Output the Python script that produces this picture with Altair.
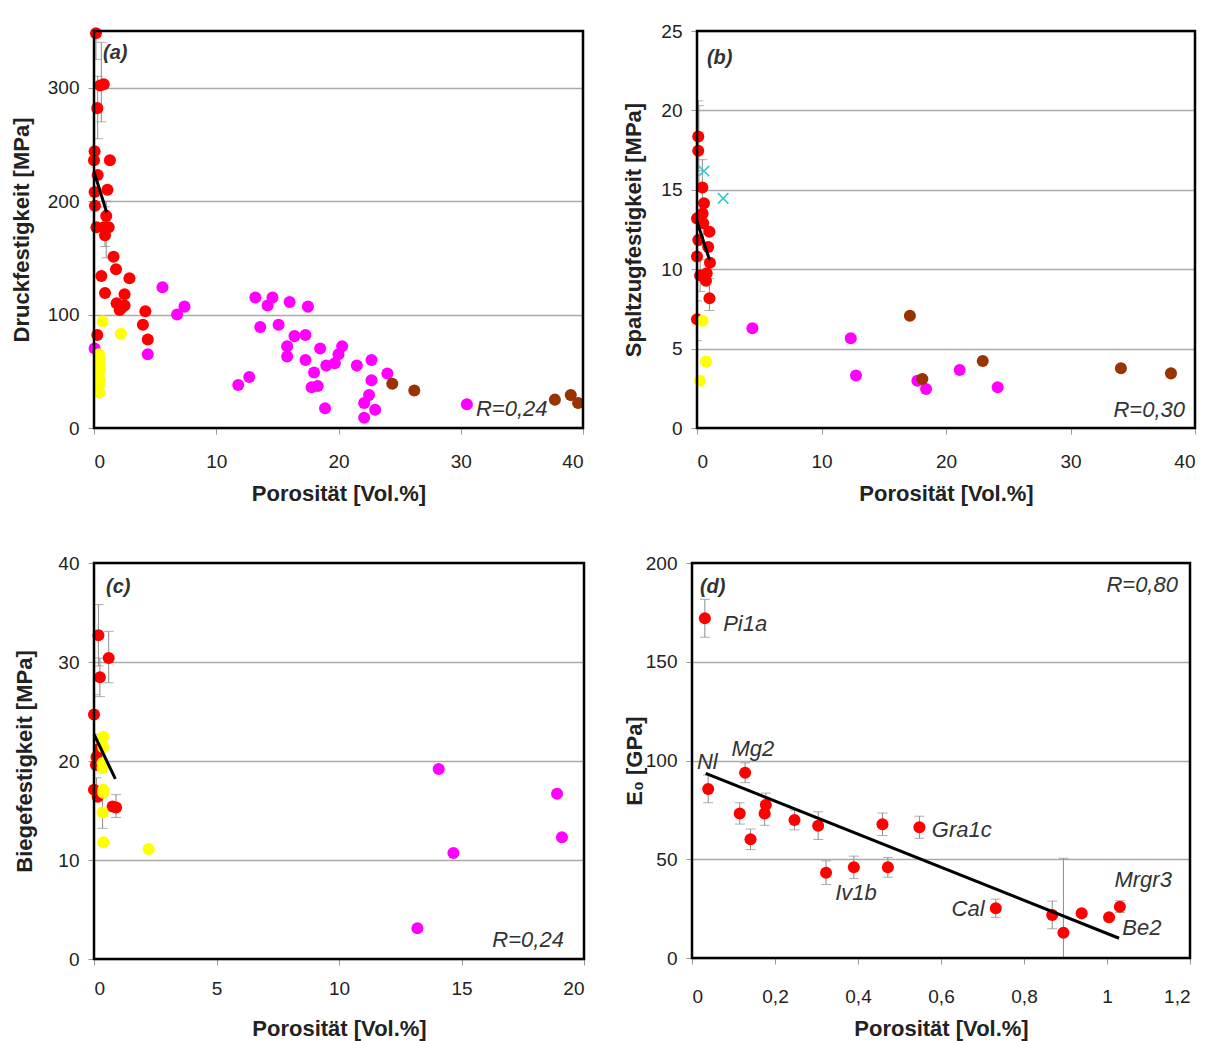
import altair as alt
import pandas as pd

FONT = "Liberation Sans"
RED = "#ff0000"
MAG = "#ff00ff"
BRN = "#993300"
YEL = "#ffff00"
CYN = "#33cccc"
GRAY = "#8c8c8c"

# ---------------- Panel (a) ----------------
a_red_x = [0.16, 0.5, 0.8, 0.27, 0.05, 0.0, 1.3, 0.3, 0.05, 1.1, 0.08, 1.0, 0.2, 0.8, 1.2, 0.9,
           1.6, 1.8, 0.6, 2.9, 0.9, 2.5, 1.85, 2.26, 2.5, 2.1, 4.2, 4.0, 4.4, 0.27]
a_red_y = [348, 302, 303, 282, 244, 236, 236, 223, 208, 210, 196, 187, 177, 177, 177, 170,
           151, 140, 134, 132, 119, 118, 110, 106, 108, 104, 103, 91, 78, 82]
a_mag_x = [0.05, 4.4, 5.6, 6.8, 7.4, 13.2, 14.2, 14.6, 16.0, 17.5, 13.6, 15.1, 16.4, 17.3, 15.8,
           15.8, 18.5, 17.3, 18.0, 19.0, 19.7, 20.0, 20.3, 17.8, 18.3, 18.9, 11.8, 12.7, 21.5,
           22.7, 24.0, 22.7, 22.5, 22.1, 23.0, 22.1, 30.5]
a_mag_y = [70, 65, 124, 100, 107, 115, 108, 115, 111, 107, 89, 91, 81, 82, 72,
           63, 70, 60, 49, 55, 57, 65, 72, 36, 37, 17.5, 38, 45, 55,
           60, 48, 42, 29, 22, 16, 9, 21]
a_brn_x = [24.4, 26.2, 37.7, 39.0, 39.6]
a_brn_y = [39, 33, 25, 29, 22]
a_yel_x = [0.7, 2.2, 0.4, 0.45, 0.4, 0.45, 0.4, 0.45, 0.4, 0.45]
a_yel_y = [94, 83, 65, 60, 56, 52, 47, 42, 37, 31]
a_err_x = [0.16, 0.6, 0.3, 1.0, 0.9]
a_err_lo = [325, 270, 255, 150, 160]
a_err_hi = [372, 340, 310, 200, 195]
a_line_x = [0.03, 1.04]
a_line_y = [225, 190]

# ---------------- Panel (b) ----------------
b_red_x = [0.1, 0.1, 0.43, 0.56, 0.45, 0.0, 0.5, 1.0, 0.1, 0.9, 0.0, 1.04, 0.25, 0.78, 0.72, 1.0, 0.0]
b_red_y = [18.35, 17.46, 15.15, 14.15, 13.5, 13.2, 12.9, 12.36, 11.84, 11.4, 10.8, 10.4, 9.6,
           9.74, 9.28, 8.17, 6.85]
b_cyn_x = [0.56, 2.1]
b_cyn_y = [16.18, 14.46]
b_yel_x = [0.45, 0.72, 0.24]
b_yel_y = [6.76, 4.18, 2.98]
b_mag_x = [4.45, 12.35, 12.77, 17.7, 18.4, 21.1, 24.15]
b_mag_y = [6.28, 5.65, 3.3, 2.98, 2.46, 3.65, 2.56]
b_brn_x = [17.1, 18.1, 22.95, 34.05, 38.07]
b_brn_y = [7.07, 3.09, 4.22, 3.76, 3.44]
b_err_x = [0.1, 0.15, 0.43, 0.5, 1.0, 0.25, 0.0]
b_err_lo = [16.2, 15.0, 13.6, 11.5, 7.4, 8.6, 5.5]
b_err_hi = [20.6, 20.3, 16.9, 14.3, 9.4, 10.6, 8.0]
b_line_x = [0.0, 1.0]
b_line_y = [13.0, 10.6]

# ---------------- Panel (c) ----------------
c_red_x = [0.18, 0.6, 0.24, 0.0, 0.2, 0.1, 0.08, 0.0, 0.15, 0.76, 0.9]
c_red_y = [32.7, 30.4, 28.45, 24.7, 21.2, 20.4, 19.6, 17.1, 16.4, 15.4, 15.3]
c_yel_x = [0.38, 0.38, 0.35, 0.35, 0.38, 0.38, 0.35, 0.38, 2.23]
c_yel_y = [22.45, 21.4, 19.8, 19.3, 17.1, 16.8, 14.8, 11.8, 11.1]
c_mag_x = [14.07, 18.9, 19.1, 14.67, 13.2]
c_mag_y = [19.2, 16.7, 12.3, 10.7, 3.1]
c_err_x = [0.18, 0.6, 0.24, 0.0, 0.9, 0.35, 0.1]
c_err_lo = [29.6, 27.9, 26.5, 22.7, 14.3, 13.2, 15.9]
c_err_hi = [35.8, 33.1, 30.4, 26.7, 16.6, 16.4, 18.3]
c_line_x = [0.0, 0.87]
c_line_y = [22.7, 18.2]

# ---------------- Panel (d) ----------------
d_x = [0.031, 0.039, 0.128, 0.115, 0.141, 0.178, 0.175, 0.247, 0.304, 0.323, 0.39, 0.459,
       0.472, 0.548, 0.732, 0.868, 0.895, 0.939, 1.005, 1.031]
d_y = [172, 85.6, 93.8, 73.2, 60.1, 77.5, 73.2, 69.9, 67, 43.2, 45.9, 67.7,
       45.9, 66.2, 25.2, 21.8, 12.8, 22.6, 20.6, 26]
d_err = [9.6, 7, 5, 5.4, 5.2, 6, 6, 5, 7, 6, 5.7, 5.7, 5, 5.6, 4.6, 7, 37.7, 0, 0, 3]
d_line_x = [0.033, 1.029]
d_line_y = [93.5, 10.0]
d_names = ["Pi1a", "Nl", "Mg2", "Gra1c", "Iv1b", "Cal", "Mrgr3", "Be2"]
d_name_x = [0.075, 0.012, 0.095, 0.578, 0.345, 0.705, 1.018, 1.037]
d_name_y = [169, 99, 106, 65, 33, 25, 39.5, 15]
d_name_align = ["left", "left", "left", "left", "left", "right", "left", "left"]


def points_df(groups):
    rows = []
    for name, xs, ys in groups:
        for xv, yv in zip(xs, ys):
            rows.append({"x": xv, "y": yv, "grp": name})
    return pd.DataFrame(rows)


def make_panel(W, H, xdom, ydom, xvals, yvals, xtitle, ytitle, groups, err, line, texts,
               cross=None, xlabpad=18, xtitpad=8, yext=47, ytitpad=14, xexpr=None):
    xaxis_kw = dict(values=xvals, labelPadding=xlabpad, titlePadding=xtitpad, grid=False)
    if xexpr:
        xaxis_kw["labelExpr"] = xexpr
    xscale = alt.Scale(domain=xdom, nice=False, zero=False)
    yscale = alt.Scale(domain=ydom, nice=False, zero=False)
    yaxis = alt.Axis(values=yvals, labelPadding=9, titlePadding=ytitpad,
                     minExtent=yext, maxExtent=yext, grid=True)
    xaxis = alt.Axis(**xaxis_kw)

    def X(f):
        return alt.X(f"{f}:Q", scale=xscale, axis=xaxis, title=xtitle)

    def Y(f):
        return alt.Y(f"{f}:Q", scale=yscale, axis=yaxis, title=ytitle)

    layers = []
    ex, elo, ehi = err
    edf = pd.DataFrame({"x": ex, "lo": elo, "hi": ehi})
    layers.append(alt.Chart(edf).mark_rule(color=GRAY, strokeWidth=1, clip=True)
                  .encode(x=X("x"), y=Y("lo"), y2="hi:Q"))
    layers.append(alt.Chart(edf).mark_tick(color=GRAY, orient="horizontal", size=10,
                                           thickness=1, clip=True)
                  .encode(x=X("x"), y=Y("lo")))
    layers.append(alt.Chart(edf).mark_tick(color=GRAY, orient="horizontal", size=10,
                                           thickness=1, clip=True)
                  .encode(x=X("x"), y=Y("hi")))

    pdf = points_df(groups)
    dom = [g[0] for g in groups]
    cmap = {"red": RED, "mag": MAG, "brn": BRN, "yel": YEL}
    layers.append(alt.Chart(pdf).mark_circle(size=145, opacity=1)
                  .encode(x=X("x"), y=Y("y"),
                          color=alt.Color("grp:N", scale=alt.Scale(domain=dom, range=[cmap[d] for d in dom]),
                                          legend=None)))
    if cross:
        cdf = pd.DataFrame({"x": cross[0], "y": cross[1]})
        layers.append(alt.Chart(cdf).mark_point(shape="M-1,-1L1,1M-1,1L1,-1", filled=False,
                                                stroke=CYN, strokeWidth=1.6, size=110, opacity=1)
                      .encode(x=X("x"), y=Y("y")))
    ldf = pd.DataFrame({"x": line[0], "y": line[1]})
    layers.append(alt.Chart(ldf).mark_line(color="black", strokeWidth=3)
                  .encode(x=X("x"), y=Y("y")))
    for (tx, ty, txt, align, weight, size) in texts:
        tdf = pd.DataFrame({"x": [tx], "y": [ty], "t": [txt]})
        layers.append(alt.Chart(tdf).mark_text(align=align, baseline="middle", font=FONT,
                                               fontSize=size, fontStyle="italic",
                                               fontWeight=weight, color="#333333")
                      .encode(x=X("x"), y=Y("y"), text="t:N"))
    frame = alt.Chart(alt.Data(values=[{"a": 1}])).mark_rect(
        fillOpacity=0, stroke="black", strokeWidth=2.5).encode(
        x=alt.value(0), x2=alt.value(W), y=alt.value(0), y2=alt.value(H))
    layers.append(frame)
    return alt.layer(*layers).properties(width=W, height=H)


XT = "Porosität [Vol.%]"

pa = make_panel(489, 397, [0, 40], [0, 350], [0, 10, 20, 30, 40], [0, 100, 200, 300],
                XT, "Druckfestigkeit [MPa]",
                [("red", a_red_x, a_red_y), ("mag", a_mag_x, a_mag_y),
                 ("brn", a_brn_x, a_brn_y), ("yel", a_yel_x, a_yel_y)],
                (a_err_x, a_err_lo, a_err_hi), (a_line_x, a_line_y),
                [(0.74, 331, "(a)", "left", "bold", 20), (37.1, 17, "R=0,24", "right", "normal", 22)],
                xlabpad=18, xtitpad=12, yext=47, ytitpad=14)

pb = make_panel(498, 397, [0, 40], [0, 25], [0, 10, 20, 30, 40], [0, 5, 10, 15, 20, 25],
                XT, "Spaltzugfestigkeit [MPa]",
                [("red", b_red_x, b_red_y), ("mag", b_mag_x, b_mag_y),
                 ("brn", b_brn_x, b_brn_y), ("yel", b_yel_x, b_yel_y)],
                (b_err_x, b_err_lo, b_err_hi), (b_line_x, b_line_y),
                [(0.8, 23.3, "(b)", "left", "bold", 20), (39.2, 1.13, "R=0,30", "right", "normal", 22)],
                cross=(b_cyn_x, b_cyn_y), xlabpad=18, xtitpad=12, yext=38, ytitpad=14)

pc = make_panel(490, 396, [0, 20], [0, 40], [0, 5, 10, 15, 20], [0, 10, 20, 30, 40],
                XT, "Biegefestigkeit [MPa]",
                [("red", c_red_x, c_red_y), ("mag", c_mag_x, c_mag_y), ("yel", c_yel_x, c_yel_y)],
                (c_err_x, c_err_lo, c_err_hi), (c_line_x, c_line_y),
                [(0.49, 37.6, "(c)", "left", "bold", 20), (19.18, 1.9, "R=0,24", "right", "normal", 22)],
                xlabpad=14, xtitpad=20, yext=47, ytitpad=11)

d_lo = [y - e for y, e in zip(d_y, d_err)]
d_hi = [y + e for y, e in zip(d_y, d_err)]
d_texts = [(x, y, n, al, "normal", 22) for x, y, n, al in zip(d_name_x, d_name_y, d_names, d_name_align)]
d_texts += [(0.019, 188, "(d)", "left", "bold", 20), (1.171, 189, "R=0,80", "right", "normal", 22)]
pd_ = make_panel(498, 395, [0, 1.2], [0, 200], [0, 0.2, 0.4, 0.6, 0.8, 1.0, 1.2], [0, 50, 100, 150, 200],
                 XT, "E₀ [GPa]",
                 [("red", d_x, d_y)],
                 (d_x, d_lo, d_hi), (d_line_x, d_line_y), d_texts,
                 xlabpad=23, xtitpad=12, yext=38, ytitpad=8,
                 xexpr="replace(format(datum.value, '~g'), '.', ',')")

row1 = alt.hconcat(pa, pb, spacing=37)
row2 = alt.hconcat(pc, pd_, spacing=37)
chart = alt.vconcat(row1, row2, spacing=50).properties(
    padding={"left": 2, "top": 14, "right": 5, "bottom": 5}
).configure_axis(
    labelFont=FONT, titleFont=FONT, labelFontSize=19, titleFontSize=22,
    titleFontWeight="bold", labelColor="#222222", titleColor="#222222",
    tickColor="#999999", tickSize=6, domain=False, gridColor="#aaaaaa", gridWidth=1.3
).configure_view(strokeWidth=0)

chart.save("out.html", embed_options={"renderer": "svg", "actions": False})
